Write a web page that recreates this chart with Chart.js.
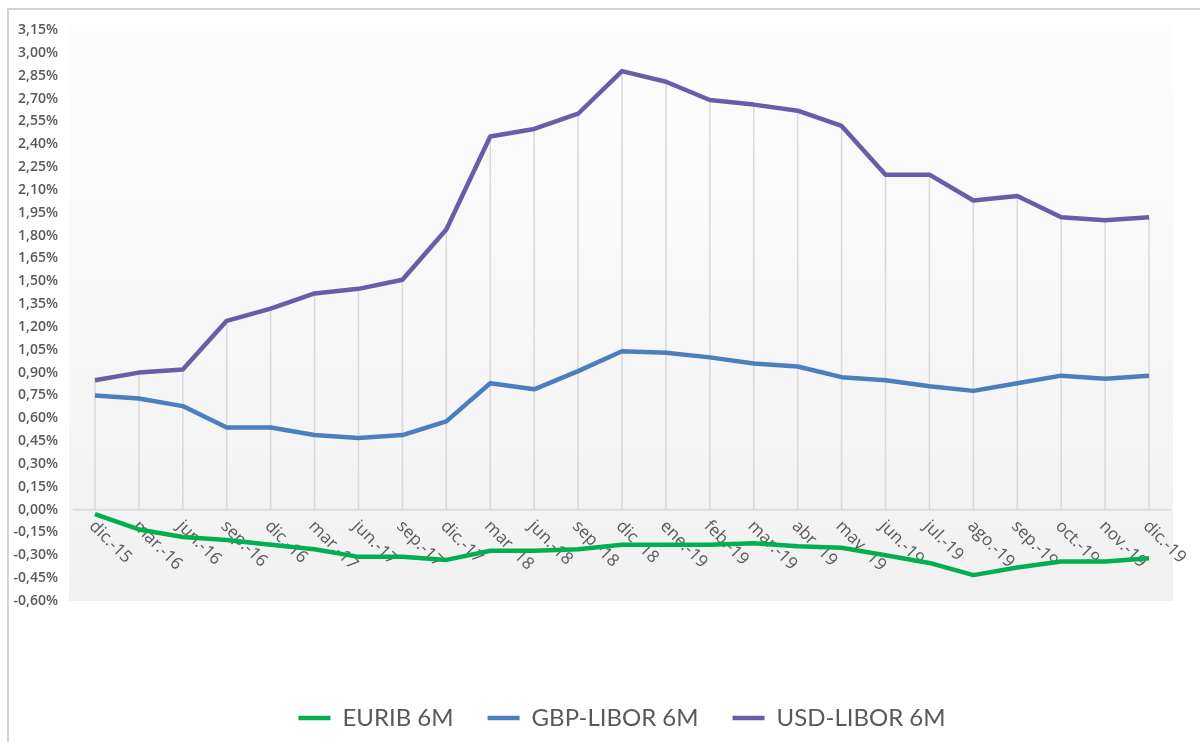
<!DOCTYPE html>
<html>
<head>
<meta charset="utf-8">
<script src="https://cdn.jsdelivr.net/npm/chart.js@4"></script>
<style>
  html, body { margin: 0; padding: 0; background: #fff; }
  #wrap { position: relative; width: 1200px; height: 742px; }
  #frame {
    position: absolute; left: 7px; top: 8px; right: 0; bottom: 0;
    border-top: 2px solid #d4d4d4; border-left: 2px solid #d4d4d4;
    pointer-events: none;
  }
</style>
</head>
<body>
<div id="wrap">
  <canvas id="rateChart" width="1200" height="742"></canvas>
  <div id="frame"></div>
</div>
<script>
const months = ['dic.-15', 'mar.-16', 'jun.-16', 'sep.-16', 'dic.-16', 'mar.-17', 'jun.-17', 'sep.-17',
  'dic.-17', 'mar.-18', 'jun.-18', 'sep.-18', 'dic.-18', 'ene.-19', 'feb.-19', 'mar.-19', 'abr.-19',
  'may.-19', 'jun.-19', 'jul.-19', 'ago.-19', 'sep.-19', 'oct.-19', 'nov.-19', 'dic.-19'];

const euribor6m = [-0.03, -0.13, -0.18, -0.20, -0.23, -0.26, -0.31, -0.31, -0.33, -0.27, -0.27, -0.26,
  -0.23, -0.23, -0.23, -0.22, -0.24, -0.25, -0.30, -0.35, -0.43, -0.38, -0.34, -0.34, -0.32];

const gbpLibor6m = [0.75, 0.73, 0.68, 0.54, 0.54, 0.49, 0.47, 0.49, 0.58, 0.83, 0.79, 0.91,
  1.04, 1.03, 1.00, 0.96, 0.94, 0.87, 0.85, 0.81, 0.78, 0.83, 0.88, 0.86, 0.88];

const usdLibor6m = [0.85, 0.90, 0.92, 1.24, 1.32, 1.42, 1.45, 1.51, 1.84, 2.45, 2.50, 2.60,
  2.88, 2.81, 2.69, 2.66, 2.62, 2.52, 2.20, 2.20, 2.03, 2.06, 1.92, 1.90, 1.92];

const seriesNames = ['EURIB 6M', 'GBP-LIBOR 6M', 'USD-LIBOR 6M'];
const seriesColors = ['#00b050', '#4a7ebf', '#6b5ba8'];

const yMin = -0.60;
const yMax = 3.15;
const yStep = 0.15;

const fmtPct = v => (Math.abs(v) < 1e-9 ? 0 : v).toFixed(2).replace('.', ',') + '%';

// grey plot background, drop lines and the slanted month labels
const excelLook = {
  id: 'excelLook',
  beforeDraw(chart) {
    const {ctx, chartArea: a} = chart;
    const g = ctx.createLinearGradient(0, a.top, 0, a.bottom);
    g.addColorStop(0, '#fdfdfd');
    g.addColorStop(1, '#f1f1f1');
    ctx.save();
    ctx.fillStyle = g;
    ctx.fillRect(a.left - 4, a.top - 6, a.right - a.left + 6, a.bottom - a.top + 6);
    ctx.restore();
  },
  beforeDatasetsDraw(chart) {
    const {ctx, scales: {x, y}} = chart;
    const zero = y.getPixelForValue(0);
    ctx.save();
    ctx.strokeStyle = '#d9d9d9';
    ctx.lineWidth = 1.5;
    months.forEach((m, i) => {
      const top = Math.max(euribor6m[i], gbpLibor6m[i], usdLibor6m[i]);
      const px = x.getPixelForValue(i);
      ctx.beginPath();
      ctx.moveTo(px, y.getPixelForValue(top));
      ctx.lineTo(px, zero);
      ctx.stroke();
    });
    ctx.fillStyle = '#595959';
    ctx.font = '17px "Open Sans"';
    ctx.textAlign = 'left';
    ctx.textBaseline = 'top';
    months.forEach((m, i) => {
      const px = x.getPixelForValue(i);
      ctx.save();
      ctx.translate(px + 3, zero + 8);
      ctx.rotate(Math.PI / 4);
      ctx.fillText(m, 0, 0);
      ctx.restore();
    });
    ctx.restore();
  }
};

const ctx = document.getElementById('rateChart').getContext('2d');
new Chart(ctx, {
  type: 'line',
  data: {
    labels: months,
    datasets: [
      { label: seriesNames[0], data: euribor6m, borderColor: seriesColors[0], backgroundColor: seriesColors[0] },
      { label: seriesNames[1], data: gbpLibor6m, borderColor: seriesColors[1], backgroundColor: seriesColors[1] },
      { label: seriesNames[2], data: usdLibor6m, borderColor: seriesColors[2], backgroundColor: seriesColors[2] }
    ].map(d => Object.assign(d, {
      borderWidth: 4.5,
      pointRadius: 0,
      tension: 0,
      fill: false,
      borderJoinStyle: 'round',
      pointStyle: 'line'
    }))
  },
  options: {
    responsive: false,
    animation: false,
    layout: { padding: { top: 30, right: 29, left: 0, bottom: 2 } },
    scales: {
      x: {
        offset: true,
        grid: { display: false },
        border: { display: false },
        ticks: { display: false },
        afterFit(scale) { scale.height = 71; }
      },
      y: {
        min: yMin,
        max: yMax,
        grid: {
          drawTicks: false,
          color: c => (c.tick && Math.abs(c.tick.value) < 1e-9 ? '#d9d9d9' : 'rgba(0,0,0,0)'),
          lineWidth: 1.5
        },
        border: { display: false },
        ticks: {
          stepSize: yStep,
          padding: 15,
          color: '#595959',
          font: { family: '"Open Sans"', size: 14, weight: '600' },
          callback: v => fmtPct(v)
        },
        afterFit(scale) { scale.width = 73; }
      }
    },
    plugins: {
      legend: {
        position: 'bottom',
        fullSize: false,
        labels: {
          usePointStyle: true,
          pointStyleWidth: 32,
          padding: 34,
          color: '#595959',
          font: { family: 'Lato', size: 24 }
        }
      },
      tooltip: { enabled: false }
    }
  },
  plugins: [excelLook]
});
</script>
</body>
</html>
